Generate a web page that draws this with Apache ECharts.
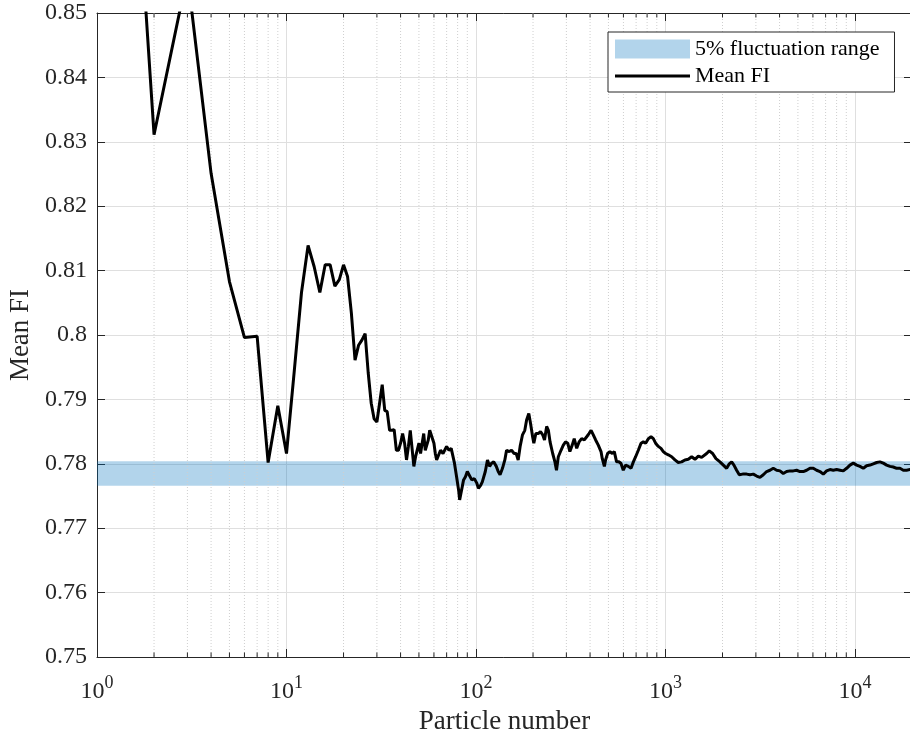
<!DOCTYPE html>
<html>
<head>
<meta charset="utf-8">
<script src="https://cdn.jsdelivr.net/npm/echarts@6/dist/echarts.min.js"></script>
<style>
  html, body { margin: 0; padding: 0; background: #fff; }
  #chart { width: 910px; height: 738px; }
</style>
</head>
<body>
<div id="chart"></div>
<script>
// particle count and running mean FI
const particleN = [1,2,3,4,5,6,7,8,9,10,11,12,13,14,15,16,17,18,19,20,21,22,23,24,25,26,27,28,29,30,
  31,32,33,34,35,36,37,38,39,40,41,42,43,44,45,47,48,50,51,52,53,54,56,57,58,60,61,62,65,67,70,72,74,77,79,
  81,82,84,86,88,90,92,95,98,101,103,106,108,112,115,118,121,124,128,131,134,138,142,145,150,154,159,163,
  167,171,176,181,185,190,194,199,202,207,213,219,225,230,236,241,246,254,261,266,272,281,289,297,305,313,
  322,330,340,350,361,373,384,395,405,416,428,442,457,464,476,483,495,509,524,537,552,568,582,599,616,637,
  658,677,696,719,743,764,786,812,839,863,887,917,947,974,1002,1035,1078,1122,1168,1217,1267,1320,1375,
  1431,1491,1552,1584,1649,1703,1774,1847,1939,2020,2103,2172,2235,2298,2374,2452,2554,2682,2792,2907,
  3028,3153,3283,3419,3560,3707,3861,4020,4186,4359,4540,4727,4922,5126,5338,5558,5788,6027,6276,6536,
  6806,7087,7380,7685,8003,8333,8678,9037,9410,9800,10205,10626,11066,11523,12000,12496,13013,13551,
  14111,14694,15302,15935,16594,17280,17995,18739,19514,20000];

const meanFI = [0.966,0.8311,0.856,0.8251,0.8083,0.7996,0.7998,0.7802,0.7890,0.7816,0.7945,0.8066,0.8139,
  0.8106,0.8066,0.8109,0.8109,0.8076,0.8086,0.8109,0.8091,0.8034,0.7961,0.7984,0.7992,0.8002,0.7941,0.7894,
  0.7870,0.7865,0.7894,0.7923,0.7883,0.7881,0.7852,0.7852,0.7853,0.7821,0.7821,0.7832,0.7847,0.7832,0.7806,
  0.7827,0.7852,0.7796,0.7811,0.7832,0.7816,0.7832,0.7847,0.7821,0.7837,0.7852,0.7850,0.7832,0.7816,0.7806,
  0.7821,0.7816,0.7827,0.7821,0.7824,0.7801,0.7780,0.7759,0.7744,0.7746,0.7775,0.7780,0.7788,0.7785,0.7775,
  0.7777,0.7770,0.7762,0.7767,0.7772,0.7788,0.7806,0.7796,0.7801,0.7803,0.7796,0.7788,0.7783,0.7793,0.7806,
  0.7821,0.7819,0.7821,0.7816,0.7816,0.7806,0.7827,0.7845,0.7852,0.7868,0.7878,0.7863,0.7842,0.7832,0.7847,
  0.7847,0.7850,0.7845,0.7837,0.7858,0.7852,0.7834,0.7816,0.7803,0.7790,0.7811,0.7821,0.7829,0.7834,0.7832,
  0.7819,0.7829,0.7839,0.7824,0.7834,0.7839,0.7837,0.7842,0.7847,0.7852,0.7845,0.7837,0.7829,0.7819,0.7808,
  0.7796,0.7806,0.7816,0.7819,0.7816,0.7819,0.7803,0.7803,0.7801,0.7790,0.7798,0.7796,0.7793,0.7803,0.7811,
  0.7821,0.7832,0.7834,0.7832,0.7839,0.7842,0.7839,0.7832,0.7827,0.7824,0.7819,0.7816,0.7814,0.7811,0.7806,
  0.7802,0.7803,0.7806,0.7807,0.7811,0.7807,0.7812,0.7810,0.7811,0.7816,0.7820,0.7816,0.7808,0.7803,0.7798,
  0.7793,0.7800,0.7803,0.7798,0.7790,0.7783,0.7784,0.7784,0.7783,0.7784,0.7781,0.7779,0.7783,0.7788,0.7790,
  0.7793,0.7790,0.7789,0.7785,0.7788,0.7789,0.7789,0.7790,0.7788,0.7788,0.7790,0.7793,0.7793,0.7790,0.7788,
  0.7784,0.7789,0.7791,0.7790,0.7791,0.7790,0.7789,0.7793,0.7798,0.7801,0.7798,0.7796,0.7793,0.7797,0.7798,
  0.7800,0.7802,0.7803,0.7801,0.7798,0.7796,0.7795,0.7793,0.7793,0.7790,0.7790,0.7791,0.7791];

// 5% fluctuation band
const bandLow = 0.7766;
const bandHigh = 0.7804;

const xMin = 1, xMax = 20000;
const yMin = 0.75, yMax = 0.85, yStep = 0.01;

// minor log ticks (2..9 per decade)
const minorTicks = [];
for (let d = 1; d < xMax; d *= 10) {
  for (let k = 2; k <= 9; k++) {
    if (k * d < xMax) minorTicks.push([k * d, yMin]);
  }
}

const serif = 'Liberation Serif, Times New Roman, serif';
const axisColor = '#262626';

const chart = echarts.init(document.getElementById('chart'));

const lineData = particleN.map((n, i) => [n, meanFI[i]]);

const option = {
  animation: false,
  backgroundColor: '#fff',
  grid: { left: 97, top: 13, width: 815, bottom: 81, outerBoundsMode: 'none', containLabel: false },
  legend: {
    left: 608,
    top: 32,
    orient: 'vertical',
    padding: [6, 15, 5, 7],
    itemGap: 5,
    itemWidth: 75,
    itemHeight: 19,
    borderColor: axisColor,
    borderWidth: 1,
    backgroundColor: '#fff',
    textStyle: { fontFamily: serif, fontSize: 22, color: '#000' },
    data: [
      { name: '5% fluctuation range', icon: 'rect', itemStyle: { color: 'rgba(0,114,189,0.3)', borderWidth: 0 } },
      { name: 'Mean FI', icon: 'path://M0,0H75V3H0Z', itemStyle: { color: '#000', borderWidth: 0 } }
    ]
  },
  xAxis: [
    {
      type: 'log',
      logBase: 10,
      min: xMin,
      max: xMax,
      name: 'Particle number',
      nameLocation: 'middle',
      nameGap: 49,
      nameTextStyle: { fontFamily: serif, fontSize: 27, color: axisColor },
      axisLine: { lineStyle: { color: axisColor, width: 1 } },
      axisTick: { inside: true, length: 8, lineStyle: { color: axisColor } },
      axisLabel: {
        margin: 17,
        showMaxLabel: false,
        formatter: v => '{b|10}{s|' + Math.round(Math.log10(v)) + '}',
        rich: {
          b: { fontFamily: serif, fontSize: 24, color: axisColor },
          s: { fontFamily: serif, fontSize: 18, color: axisColor, padding: [0, 0, 17, 0] }
        }
      },
      splitLine: { show: true, lineStyle: { color: '#dfdfdf', width: 1 } }
    },
    {
      type: 'log',
      logBase: 10,
      min: xMin,
      max: xMax,
      position: 'top',
      axisLine: { lineStyle: { color: axisColor, width: 1 } },
      axisTick: { inside: true, length: 8, lineStyle: { color: axisColor } },
      axisLabel: { show: false },
      splitLine: { show: false }
    }
  ],
  yAxis: [
    {
      type: 'value',
      min: yMin,
      max: yMax,
      interval: yStep,
      name: 'Mean FI',
      nameLocation: 'middle',
      nameGap: 60,
      nameTextStyle: { fontFamily: serif, fontSize: 27, color: axisColor },
      axisLine: { show: true, lineStyle: { color: axisColor, width: 1 } },
      axisTick: { show: true, inside: true, length: 8, lineStyle: { color: axisColor } },
      axisLabel: { margin: 10, fontFamily: serif, fontSize: 24, color: axisColor },
      splitLine: { show: true, lineStyle: { color: '#dfdfdf', width: 1 } }
    },
    {
      type: 'value',
      min: yMin,
      max: yMax,
      interval: yStep,
      position: 'right',
      axisLine: { show: true, lineStyle: { color: axisColor, width: 1 } },
      axisTick: { show: true, inside: true, length: 8, lineStyle: { color: axisColor } },
      axisLabel: { show: false },
      splitLine: { show: false }
    }
  ],
  series: [
    {
      // minor grid lines and minor ticks of the log axis
      type: 'custom',
      silent: true,
      z: 1,
      data: minorTicks,
      encode: { x: 0, y: 1 },
      renderItem: (params, api) => {
        const cs = params.coordSys;
        const x = api.coord([api.value(0), yMin])[0];
        const top = cs.y, bottom = cs.y + cs.height;
        return {
          type: 'group',
          children: [
            { type: 'line', shape: { x1: x, y1: top, x2: x, y2: bottom },
              style: { stroke: '#cfcfcf', lineWidth: 1, lineDash: [1, 2] } },
            { type: 'line', shape: { x1: x, y1: bottom, x2: x, y2: bottom - 4.5 },
              style: { stroke: axisColor, lineWidth: 1 } },
            { type: 'line', shape: { x1: x, y1: top, x2: x, y2: top + 4.5 },
              style: { stroke: axisColor, lineWidth: 1 } }
          ]
        };
      }
    },
    {
      name: '5% fluctuation range',
      type: 'line',
      data: [],
      color: 'rgba(0,114,189,0.3)',
      z: 2,
      markArea: {
        silent: true,
        itemStyle: { color: 'rgba(0,114,189,0.3)' },
        data: [[{ yAxis: bandLow }, { yAxis: bandHigh }]]
      }
    },
    {
      name: 'Mean FI',
      type: 'line',
      data: lineData,
      symbol: 'none',
      showSymbol: false,
      color: '#000',
      lineStyle: { color: '#000', width: 3 },
      z: 5
    }
  ]
};

chart.setOption(option);
</script>
</body>
</html>
